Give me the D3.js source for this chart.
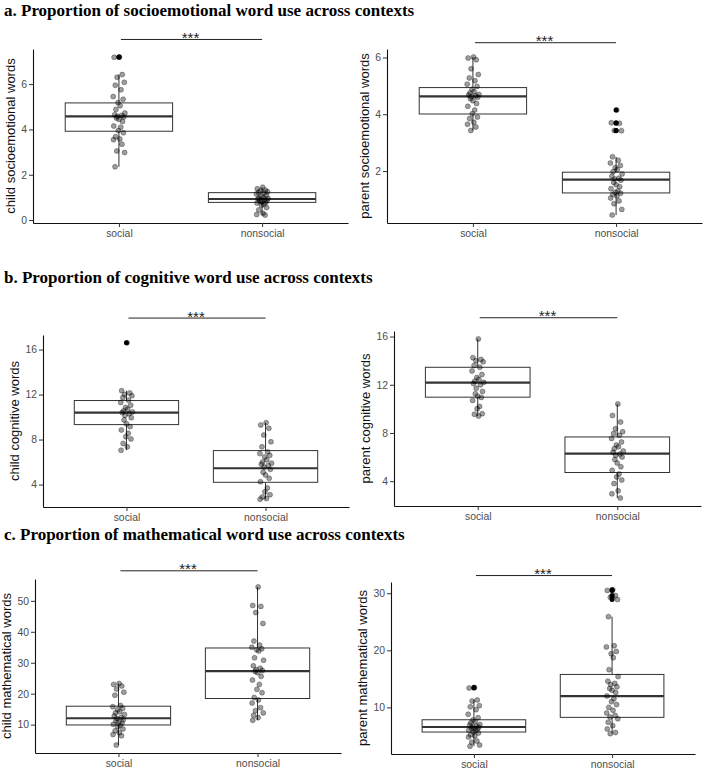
<!DOCTYPE html>
<html>
<head>
<meta charset="utf-8">
<script src="https://cdn.jsdelivr.net/npm/d3@7"></script>
<style>
  body { margin: 0; background: #fff; }
  .tick text { font-family: "Liberation Sans", Arial, sans-serif; }
</style>
</head>
<body>
<div id="chart"></div>
<script>
// categories on every x axis
const categories = ['social', 'nonsocial'];

const titles = [
    'a. Proportion of socioemotional word use across contexts',
    'b. Proportion of cognitive word use across contexts',
    'c. Proportion of mathematical word use across contexts'
];

// a. socioemotional words
const childSocioSocial = [7.2, 7.18, 6.42, 6.3, 6.08, 5.95, 5.75, 5.45, 5.33, 5.18, 5.05, 4.88, 4.72, 4.65, 4.62, 4.58, 4.55, 4.5, 4.45, 4.35, 4.15, 4.1, 3.95, 3.85, 3.68, 3.58, 3.55, 3.35, 3.05, 2.98, 2.35];
const childSocioNonsocial = [1.45, 1.38, 1.32, 1.28, 1.25, 1.22, 1.2, 1.15, 1.1, 1.05, 1.0, 0.97, 0.95, 0.93, 0.9, 0.88, 0.85, 0.82, 0.8, 0.78, 0.75, 0.7, 0.65, 0.55, 0.45, 0.3, 0.25, 0.22];
const parentSocioSocial = [6.02, 5.98, 5.92, 5.6, 5.4, 5.28, 5.18, 5.06, 4.98, 4.88, 4.8, 4.75, 4.7, 4.68, 4.65, 4.62, 4.6, 4.55, 4.48, 4.38, 4.28, 4.15, 4.02, 3.9, 3.85, 3.72, 3.65, 3.55, 3.43];
const parentSocioNonsocial = [4.15, 3.7, 3.68, 3.43, 3.42, 2.5, 2.38, 2.28, 2.2, 2.12, 2.05, 1.98, 1.9, 1.82, 1.75, 1.72, 1.68, 1.6, 1.52, 1.45, 1.38, 1.3, 1.25, 1.22, 1.18, 1.12, 1.05, 0.95, 0.85, 0.65, 0.45];

// b. cognitive words
const childCogSocial = [16.6, 12.35, 12.15, 12.0, 11.9, 11.75, 11.5, 11.3, 11.05, 10.85, 10.7, 10.55, 10.45, 10.4, 10.3, 10.15, 9.95, 9.75, 9.4, 9.15, 8.85, 8.55, 8.25, 8.05, 7.65, 7.35, 7.05];
const childCogNonsocial = [9.5, 9.3, 9.0, 8.4, 7.8, 7.35, 6.9, 6.75, 6.6, 6.45, 6.2, 6.0, 5.9, 5.8, 5.7, 5.55, 5.35, 5.1, 4.85, 4.55, 4.25, 3.7, 3.35, 3.1, 2.9, 2.75, 2.7];
const parentCogSocial = [15.8, 14.25, 14.1, 14.0, 13.9, 13.6, 13.45, 13.15, 12.85, 12.6, 12.45, 12.3, 12.2, 12.1, 12.0, 11.7, 11.45, 11.25, 11.05, 10.95, 10.7, 10.2, 10.0, 9.6, 9.55, 9.4];
const parentCogNonsocial = [10.4, 9.45, 8.9, 8.35, 8.1, 7.95, 7.8, 7.55, 7.25, 7.0, 6.85, 6.7, 6.5, 6.4, 6.25, 6.15, 6.0, 5.8, 5.5, 5.2, 4.9, 4.6, 4.35, 4.1, 3.8, 3.2, 2.95, 2.6];

// c. mathematical words
const childMathSocial = [23.3, 23.0, 22.5, 21.5, 20.5, 19.5, 16.2, 15.8, 15.3, 14.8, 14.2, 13.8, 13.3, 12.8, 12.3, 12.0, 11.6, 11.2, 10.8, 10.5, 10.1, 9.8, 9.3, 8.6, 8.0, 7.4, 6.8, 6.4, 3.4];
const childMathNonsocial = [54.5, 48.5, 48.2, 46.2, 42.7, 37.0, 35.7, 35.0, 34.5, 34.2, 33.8, 31.6, 30.8, 29.0, 28.2, 27.8, 27.5, 27.2, 26.8, 25.6, 24.4, 23.0, 21.4, 20.3, 18.8, 18.0, 17.0, 15.5, 14.5, 13.8, 13.0, 12.3, 11.4];
const parentMathSocial = [13.5, 13.4, 11.3, 11.1, 10.3, 10.1, 9.6, 8.8, 8.2, 7.8, 7.5, 7.3, 7.0, 6.9, 6.7, 6.6, 6.5, 6.4, 6.3, 6.2, 6.0, 5.9, 5.7, 5.5, 5.2, 5.0, 4.8, 4.1, 3.9, 3.4, 3.2];
const parentMathNonsocial = [30.6, 30.5, 29.6, 29.3, 28.9, 25.9, 20.8, 20.6, 19.8, 19.4, 18.7, 16.6, 15.4, 14.6, 14.2, 14.0, 13.6, 13.3, 13.0, 12.6, 12.0, 11.5, 11.0, 10.5, 10.0, 9.5, 9.0, 8.6, 8.3, 8.0, 7.4, 6.8, 6.2, 5.6, 5.4];

// box stats per category: [lower whisker, q1, median, q3, upper whisker]
const childSocioBoxes = [[2.35, 3.92, 4.58, 5.17, 6.42], [0.22, 0.78, 0.93, 1.21, 1.45]];
const parentSocioBoxes = [[3.43, 4.01, 4.63, 4.94, 6.02], [0.45, 1.23, 1.70, 1.96, 2.5]];
const childCogBoxes = [[7.05, 9.33, 10.4, 11.47, 12.35], [2.7, 4.2, 5.45, 7.02, 9.5]];
const parentCogBoxes = [[9.4, 10.97, 12.17, 13.45, 15.8], [2.6, 4.72, 6.28, 7.67, 10.4]];
const childMathBoxes = [[3.4, 9.9, 12.07, 15.96, 23.3], [11.4, 18.45, 27.3, 34.77, 54.5]];
const parentMathBoxes = [[3.2, 5.68, 6.56, 7.83, 11.3], [5.4, 8.25, 11.98, 15.77, 25.9]];

// y tick values
const socioChildTicks = [0, 2, 4, 6];
const socioParentTicks = [2, 4, 6];
const cogTicks = [4, 8, 12, 16];
const mathChildTicks = [10, 20, 30, 40, 50];
const mathParentTicks = [10, 20, 30];

// height of the significance bracket, in data units (a-left, a-right, b-left, b-right, c-left, c-right)
const sigHeights = [7.97, 6.52, 18.8, 17.56, 59.7, 33.1];
const sigLabel = '***';

// fixed horizontal jitter pattern (fraction of max spread)
const jitterPattern = [0.1, -0.8, 0.55, -0.3, 0.9, -0.6, 0.35, -0.95, 0.7, -0.15, 0.2, -0.5, 1.0, -0.7, 0.45, -0.25, 0.8, -0.4, 0.0, 0.6, -0.85, 0.3, -0.1, 0.75, -0.55, 0.15, -0.9, 0.5, -0.35, 0.95, -0.65];

const width = 708;
const height = 776;

const svg = d3.select('#chart')
    .append('svg')
    .attr('width', width)
    .attr('height', height)
    .style('background', '#fff');

// panel layout
const panels = [
    { data: [childSocioSocial, childSocioNonsocial], boxes: childSocioBoxes, ticks: socioChildTicks, label: 'child socioemotional words', left: 33, right: 348, top: 49, bottom: 223, sig: sigHeights[0] },
    { data: [parentSocioSocial, parentSocioNonsocial], boxes: parentSocioBoxes, ticks: socioParentTicks, label: 'parent socioemotional words', left: 387, right: 702, top: 49, bottom: 223, sig: sigHeights[1] },
    { data: [childCogSocial, childCogNonsocial], boxes: childCogBoxes, ticks: cogTicks, label: 'child cognitive words', left: 43, right: 349, top: 335, bottom: 507, sig: sigHeights[2] },
    { data: [parentCogSocial, parentCogNonsocial], boxes: parentCogBoxes, ticks: cogTicks, label: 'parent cognitive words', left: 394, right: 701, top: 331, bottom: 506, sig: sigHeights[3] },
    { data: [childMathSocial, childMathNonsocial], boxes: childMathBoxes, ticks: mathChildTicks, label: 'child mathematical words', left: 35, right: 341, top: 579, bottom: 753, sig: sigHeights[4] },
    { data: [parentMathSocial, parentMathNonsocial], boxes: parentMathBoxes, ticks: mathParentTicks, label: 'parent mathematical words', left: 391, right: 695, top: 582, bottom: 754, sig: sigHeights[5] }
];

const titleY = [15.5, 282.5, 540];

// Titles
titles.forEach((t, i) => {
    svg.append('text')
        .attr('x', 4)
        .attr('y', titleY[i])
        .attr('font-family', '"Liberation Serif", "Times New Roman", serif')
        .attr('font-weight', 'bold')
        .attr('font-size', 17)
        .attr('fill', '#000')
        .text(t);
});

function drawPanel(p) {
    const g = svg.append('g');

    const x = d3.scalePoint()
        .domain(categories)
        .range([p.left, p.right])
        .padding(0.6);

    // ggplot style 5% expansion of the data range
    const [lo, hi] = d3.extent(p.data.flat());
    const pad = (hi - lo) * 0.05;
    const y = d3.scaleLinear()
        .domain([lo - pad, hi + pad])
        .range([p.bottom, p.top]);

    const bw = x.step() * 0.75;

    // Boxplots with outliers
    categories.forEach((c, i) => {
        const [wlo, q1, med, q3, whi] = p.boxes[i];
        const cx = x(c);
        g.append('line')
            .attr('x1', cx).attr('x2', cx)
            .attr('y1', y(q3)).attr('y2', y(whi))
            .attr('stroke', '#333').attr('stroke-width', 1);
        g.append('line')
            .attr('x1', cx).attr('x2', cx)
            .attr('y1', y(q1)).attr('y2', y(wlo))
            .attr('stroke', '#333').attr('stroke-width', 1);
        g.append('rect')
            .attr('x', cx - bw / 2)
            .attr('y', y(q3))
            .attr('width', bw)
            .attr('height', y(q1) - y(q3))
            .attr('fill', '#fff')
            .attr('stroke', '#333')
            .attr('stroke-width', 1);
        g.append('line')
            .attr('x1', cx - bw / 2).attr('x2', cx + bw / 2)
            .attr('y1', y(med)).attr('y2', y(med))
            .attr('stroke', '#333').attr('stroke-width', 2.2);

        g.selectAll(null)
            .data(p.data[i].filter(v => v < wlo || v > whi))
            .enter()
            .append('circle')
            .attr('cx', cx)
            .attr('cy', d => y(d))
            .attr('r', 2.5)
            .attr('fill', '#000');
    });

    // Jittered points
    categories.forEach((c, i) => {
        g.selectAll(null)
            .data(p.data[i])
            .enter()
            .append('circle')
            .attr('cx', (d, j) => x(c) + jitterPattern[j % jitterPattern.length] * 6)
            .attr('cy', d => y(d))
            .attr('r', 2.5)
            .attr('fill', '#000')
            .attr('fill-opacity', 0.38)
            .attr('stroke', '#000')
            .attr('stroke-opacity', 0.38)
            .attr('stroke-width', 0.8);
    });

    // Axes
    const xAxis = g.append('g')
        .attr('transform', `translate(0,${p.bottom})`)
        .call(d3.axisBottom(x).tickSize(4).tickSizeOuter(0).tickPadding(3));
    const yAxis = g.append('g')
        .attr('transform', `translate(${p.left},0)`)
        .call(d3.axisLeft(y).tickValues(p.ticks).tickFormat(d3.format('d'))
            .tickSize(4).tickSizeOuter(0).tickPadding(2));

    [xAxis, yAxis].forEach(a => {
        a.select('.domain').attr('stroke', '#111').attr('stroke-width', 1.1);
        a.selectAll('.tick line').attr('stroke', '#333');
        a.selectAll('.tick text').attr('fill', '#4d4d4d').attr('font-size', 10.4);
    });

    // Y axis title, placed left of the tick labels
    const bb = yAxis.node().getBBox();
    const tx = p.left + bb.x - 6;
    const ty = (p.top + p.bottom) / 2;
    g.append('text')
        .attr('transform', `translate(${tx},${ty}) rotate(-90)`)
        .attr('text-anchor', 'middle')
        .attr('font-family', '"Liberation Sans", Arial, sans-serif')
        .attr('font-size', 13)
        .attr('fill', '#111')
        .text(p.label);

    // Significance bracket
    const sy = y(p.sig);
    g.append('line')
        .attr('x1', x('social') + 2).attr('x2', x('nonsocial'))
        .attr('y1', sy).attr('y2', sy)
        .attr('stroke', '#222').attr('stroke-width', 1);
    g.append('text')
        .attr('x', (x('social') + x('nonsocial')) / 2)
        .attr('y', sy + 3.5)
        .attr('text-anchor', 'middle')
        .attr('font-family', '"Liberation Sans", Arial, sans-serif')
        .attr('font-size', 15)
        .attr('fill', '#222')
        .text(sigLabel);
}

panels.forEach(drawPanel);
</script>
</body>
</html>
